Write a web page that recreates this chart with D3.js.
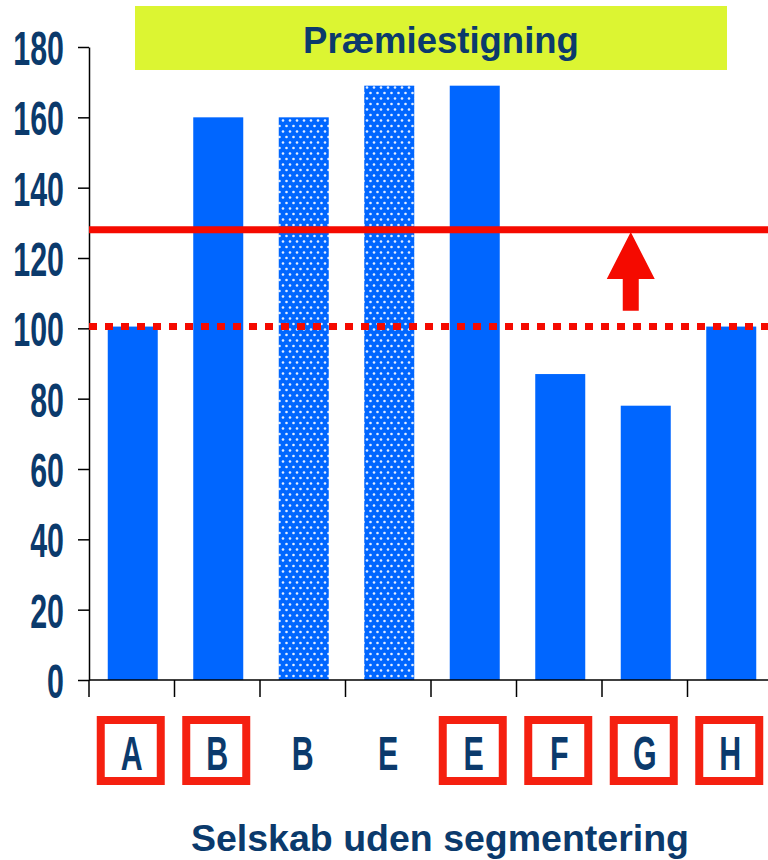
<!DOCTYPE html>
<html>
<head>
<meta charset="utf-8">
<script src="https://cdn.jsdelivr.net/npm/d3@7"></script>
<style>
  body { margin: 0; background: #fff; }
</style>
</head>
<body>
<script>
const svgWidth = 768
const svgHeight = 860

const margin = { top: 47, right: 0, bottom: 180, left: 89 }
const chartHeight = svgHeight - margin.top - margin.bottom
const chartWidth = svgWidth - margin.left - margin.right

// data
const categories = ["A", "B", "B", "E", "E", "F", "G", "H"]
const values = [100.5, 160, 160, 169, 169, 87, 78, 100.5]
const patterned = [false, false, true, true, false, false, false, false]
const boxed = [true, true, false, false, true, true, true, true]
const yTicks = [0, 20, 40, 60, 80, 100, 120, 140, 160, 180]
const oldLevel = 100.5
const newLevel = 128
const arrowLevels = [105, 114, 127.4] // shaft bottom, head base, tip
const titleText = "Præmiestigning"
const axisTitle = "Selskab uden segmentering"

const navy = "#0b3a6c"
const blue = "#0066ff"
const red = "#f50a00"
const narrow = "'Liberation Sans Narrow', 'Arial Narrow', sans-serif"
const squeeze = 0.62

const ids = categories.map((d, i) => i)

const svg = d3.select("body").append("svg")
  .attr("width", svgWidth)
  .attr("height", svgHeight)

const defs = svg.append("defs")
const pat = defs.append("pattern")
  .attr("id", "dots")
  .attr("patternUnits", "userSpaceOnUse")
  .attr("width", 7)
  .attr("height", 11)
pat.append("rect").attr("width", 7).attr("height", 11).attr("fill", blue)
pat.append("circle").attr("cx", 1.5).attr("cy", 2).attr("r", 1.3).attr("fill", "#e4eeff")
pat.append("circle").attr("cx", 5).attr("cy", 7.5).attr("r", 1.3).attr("fill", "#e4eeff")

// title box
svg.append("rect")
  .attr("x", 135).attr("y", 6)
  .attr("width", 592).attr("height", 64)
  .attr("fill", "#dcf532")
svg.append("text")
  .attr("x", 441).attr("y", 53)
  .attr("text-anchor", "middle")
  .attr("font-family", "'Liberation Sans', Arial, sans-serif")
  .attr("font-weight", "bold")
  .attr("font-size", 36.5)
  .attr("fill", navy)
  .text(titleText)

const chartG = svg.append("g")
  .attr("transform", `translate(${margin.left}, ${margin.top})`)

const y = d3.scaleLinear()
  .domain([0, 180])
  .range([chartHeight, 0])

const x = d3.scaleBand()
  .domain(ids)
  .range([0, 684])

const barWidth = 50

// bars
chartG.selectAll("rect.bar")
  .data(ids)
  .enter()
  .append("rect")
  .attr("class", "bar")
  .attr("x", i => x(i) + (x.bandwidth() - barWidth) / 2 + 1)
  .attr("y", i => y(values[i]))
  .attr("width", barWidth)
  .attr("height", i => y(0) - y(values[i]))
  .attr("fill", i => patterned[i] ? "url(#dots)" : blue)

// y axis
const yAxis = d3.axisLeft(y)
  .tickValues(yTicks)
  .tickSize(11)
  .tickSizeOuter(0)
  .tickPadding(14)

const yG = chartG.append("g").call(yAxis)
yG.select(".domain").attr("stroke", "#000").attr("stroke-width", 1.5)
yG.selectAll(".tick line").attr("stroke", "#000").attr("stroke-width", 1.5)
yG.selectAll(".tick text")
  .attr("font-family", narrow)
  .attr("font-weight", "bold")
  .attr("font-size", 49)
  .attr("fill", navy)
  .attr("dy", "0.36em")
  .attr("transform", function () {
    const tx = +this.getAttribute("x")
    return `translate(${tx},0) scale(${squeeze},1)`
  })
  .attr("x", 0)

// x axis
const xG = chartG.append("g")
  .attr("transform", `translate(0, ${chartHeight})`)
xG.append("line")
  .attr("x1", 0).attr("x2", chartWidth)
  .attr("stroke", "#000").attr("stroke-width", 1.5)
xG.selectAll("line.tick")
  .data(ids)
  .enter()
  .append("line")
  .attr("class", "tick")
  .attr("x1", i => x(i)).attr("x2", i => x(i))
  .attr("y1", 0).attr("y2", 17)
  .attr("stroke", "#000").attr("stroke-width", 1.5)

// category labels with boxes
const labelG = xG.selectAll("g.label")
  .data(ids)
  .enter()
  .append("g")
  .attr("class", "label")
  .attr("transform", i => `translate(${x(i) + x.bandwidth() / 2}, 0)`)

labelG.filter(i => boxed[i])
  .append("rect")
  .attr("x", -31).attr("y", 40)
  .attr("width", 60).attr("height", 61)
  .attr("fill", "none")
  .attr("stroke", "#f52010")
  .attr("stroke-width", 8)

labelG.append("text")
  .attr("text-anchor", "middle")
  .attr("transform", `translate(0, 90) scale(${squeeze},1)`)
  .attr("font-family", narrow)
  .attr("font-weight", "bold")
  .attr("font-size", 49)
  .attr("fill", navy)
  .text(i => categories[i])

// reference lines
chartG.append("line")
  .attr("x1", 0).attr("x2", chartWidth)
  .attr("y1", y(oldLevel)).attr("y2", y(oldLevel))
  .attr("stroke", red)
  .attr("stroke-width", 7)
  .attr("stroke-dasharray", "8 8")

chartG.append("line")
  .attr("x1", 0).attr("x2", chartWidth)
  .attr("y1", y(newLevel)).attr("y2", y(newLevel))
  .attr("stroke", red)
  .attr("stroke-width", 7)

// arrow pointing up from the old level to the new one
const ax = x(6) + x.bandwidth() / 2 - 14
const arrowPath = d3.path()
arrowPath.moveTo(ax - 8, y(arrowLevels[0]))
arrowPath.lineTo(ax - 8, y(arrowLevels[1]))
arrowPath.lineTo(ax - 24, y(arrowLevels[1]))
arrowPath.lineTo(ax, y(arrowLevels[2]))
arrowPath.lineTo(ax + 24, y(arrowLevels[1]))
arrowPath.lineTo(ax + 8, y(arrowLevels[1]))
arrowPath.lineTo(ax + 8, y(arrowLevels[0]))
arrowPath.closePath()
chartG.append("path")
  .attr("d", arrowPath.toString())
  .attr("fill", red)

// axis title
svg.append("text")
  .attr("x", 440).attr("y", 851)
  .attr("text-anchor", "middle")
  .attr("font-family", "'Liberation Sans', Arial, sans-serif")
  .attr("font-weight", "bold")
  .attr("font-size", 37.5)
  .attr("fill", navy)
  .text(axisTitle)
</script>
</body>
</html>
